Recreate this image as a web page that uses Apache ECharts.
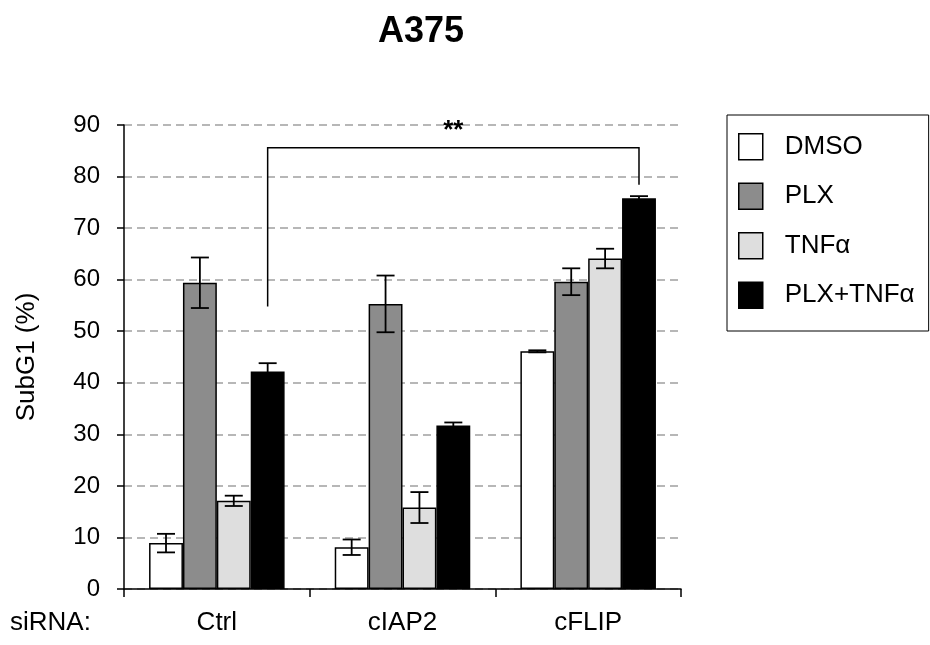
<!DOCTYPE html>
<html>
<head>
<meta charset="utf-8">
<script src="https://cdn.jsdelivr.net/npm/echarts@6/dist/echarts.min.js"></script>
<style>html,body{margin:0;padding:0;background:#fff;}#c{width:930px;height:645px;}</style>
</head>
<body>
<div id="c"></div>
<script>
const categories = ['Ctrl', 'cIAP2', 'cFLIP'];
const seriesNames = ['DMSO', 'PLX', 'TNFα', 'PLX+TNFα'];
const dmso = [8.9, 8.1, 46.1];
const plx = [59.4, 55.3, 59.6];
const tnf = [17.1, 15.8, 64.1];
const combo = [42.2, 31.7, 75.8];
const dmsoErr = [1.8, 1.5, 0.2];
const plxErr = [4.9, 5.5, 2.6];
const tnfErr = [1.0, 3.0, 1.9];
const comboErr = [1.6, 0.6, 0.4];
const yTicks = [0, 10, 20, 30, 40, 50, 60, 70, 80, 90];
// bracket: [fromCategory, toCategory, seriesIndex, topValue, leftLegBottom, rightLegBottom]
const bracket = [[0, 2, 3, 85.6, 54.8, 78.4]];
const bracketLabel = '**';

const FONT = "'Liberation Sans', Arial, sans-serif";
const CAT_GAP = 0.27;
const colors = ['#ffffff', '#8c8c8c', '#dedede', '#000000'];
const allVals = [dmso, plx, tnf, combo];
const allErr = [dmsoErr, plxErr, tnfErr, comboErr];

const errData = [];
allVals.forEach((vals, k) => {
  vals.forEach((v, i) => {
    errData.push([i, k, v - allErr[k][i], v + allErr[k][i]]);
  });
});

function barCenter(api, cat, k) {
  const band = api.size([1, 0])[0];
  const groupW = band * (1 - CAT_GAP);
  const bw = groupW / 4;
  return api.coord([cat, 0])[0] - groupW / 2 + (k + 0.5) * bw;
}

const barSeries = seriesNames.map((name, k) => ({
  name: name,
  type: 'bar',
  data: allVals[k],
  barGap: '0%',
  barCategoryGap: (CAT_GAP * 100) + '%',
  itemStyle: { color: colors[k], borderColor: '#000', borderWidth: 1.5 },
  emphasis: { disabled: true },
  z: 2
}));

const option = {
  animation: false,
  backgroundColor: '#fff',
  textStyle: { fontFamily: FONT },
  title: {
    text: 'A375',
    left: 416,
    top: 9,
    textAlign: 'center',
    textStyle: { fontFamily: FONT, fontSize: 36, fontWeight: 'bold', color: '#000' }
  },
  legend: {
    orient: 'vertical',
    left: 727,
    top: 115,
    padding: [18, 14, 22, 11],
    itemGap: 22,
    itemWidth: 24,
    itemHeight: 26,
    borderColor: '#000',
    borderWidth: 1,
    icon: 'rect',
    data: seriesNames,
    itemStyle: { borderColor: '#000', borderWidth: 1.5 },
    textStyle: { fontFamily: FONT, fontSize: 26, color: '#000', padding: [0, 0, 0, 17] }
  },
  grid: { left: 124, right: 249, top: 125, bottom: 56, containLabel: false },
  xAxis: {
    type: 'category',
    data: categories,
    axisLine: { lineStyle: { color: '#000', width: 1.5 } },
    axisTick: { show: true, length: 8, lineStyle: { color: '#000', width: 1.5 } },
    axisLabel: { fontFamily: FONT, fontSize: 26, color: '#000', margin: 21 },
    splitLine: { show: false }
  },
  yAxis: {
    type: 'value',
    min: yTicks[0],
    max: yTicks[yTicks.length - 1],
    interval: yTicks[1] - yTicks[0],
    name: 'SubG1 (%)',
    nameLocation: 'middle',
    nameGap: 84,
    nameTextStyle: { fontFamily: FONT, fontSize: 26, color: '#000' },
    axisLine: { show: true, lineStyle: { color: '#000', width: 1.5 } },
    axisTick: { show: true, length: 7, lineStyle: { color: '#000', width: 1.5 } },
    axisLabel: { fontFamily: FONT, fontSize: 24, color: '#000', margin: 24 },
    splitLine: { show: true, lineStyle: { color: '#a0a0a0', width: 1.5, type: [8, 5] } }
  },
  graphic: [{
    type: 'text',
    left: 10,
    top: 610,
    style: { text: 'siRNA:', fontFamily: FONT, fontSize: 26, fill: '#000' }
  }],
  series: barSeries.concat([
    {
      type: 'custom',
      name: 'err',
      data: errData,
      encode: { x: 0, y: [2, 3] },
      z: 5,
      silent: true,
      renderItem: function (params, api) {
        const cat = api.value(0), k = api.value(1);
        const cx = barCenter(api, cat, k);
        const yLo = api.coord([cat, api.value(2)])[1];
        const yHi = api.coord([cat, api.value(3)])[1];
        const hw = 9;
        const st = { stroke: '#000', lineWidth: 1.8 };
        return {
          type: 'group',
          children: [
            { type: 'line', shape: { x1: cx, y1: yLo, x2: cx, y2: yHi }, style: st },
            { type: 'line', shape: { x1: cx - hw, y1: yHi, x2: cx + hw, y2: yHi }, style: st },
            { type: 'line', shape: { x1: cx - hw, y1: yLo, x2: cx + hw, y2: yLo }, style: st }
          ]
        };
      }
    },
    {
      type: 'custom',
      name: 'bracket',
      data: bracket,
      encode: { x: 0, y: 3 },
      z: 5,
      silent: true,
      renderItem: function (params, api) {
        const c1 = api.value(0), c2 = api.value(1), k = api.value(2);
        const x1 = barCenter(api, c1, k);
        const x2 = barCenter(api, c2, k);
        const yTop = api.coord([c1, api.value(3)])[1];
        const yL = api.coord([c1, api.value(4)])[1];
        const yR = api.coord([c2, api.value(5)])[1];
        return {
          type: 'group',
          children: [
            { type: 'polyline', shape: { points: [[x1, yL], [x1, yTop], [x2, yTop], [x2, yR]] },
              style: { stroke: '#000', lineWidth: 1.5, fill: null } },
            { type: 'text', x: (x1 + x2) / 2, y: yTop - 4,
              style: { text: bracketLabel, fontFamily: FONT, fontSize: 26, fontWeight: 'bold',
                       fill: '#000', align: 'center', verticalAlign: 'bottom' } }
          ]
        };
      }
    }
  ])
};

const chart = echarts.init(document.getElementById('c'), null, { renderer: 'canvas' });
chart.setOption(option);
</script>
</body>
</html>
